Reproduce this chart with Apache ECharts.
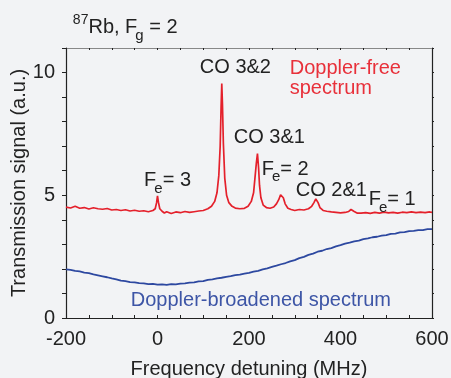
<!DOCTYPE html>
<html><head><meta charset="utf-8">
<script src="https://cdn.jsdelivr.net/npm/echarts@6/dist/echarts.min.js"></script>
<style>html,body{margin:0;padding:0;background:#f2f3f5;}#c{width:451px;height:378px;}</style>
</head><body><div id="c"></div>
<script>
// ---- data ----
const redFreq = [-200,-190,-180,-170,-160,-150,-140,-130,-120,-110,-100,-90,-80,-70,-60,-50,-40,-30,-20,-10,-5,-2,0,2,5,10,15,20,30,40,50,60,70,80,90,100,110,118,125,130,134,137,139,140.5,142,144,147,151,156,163,170,180,190,198,205,210,213,216,218.5,221,223,226,231,238,246,254,260,265,269,272,275,279,285,292,300,310,320,330,337,342,346,348,351,355,362,370,380,390,400,410,418,423,426,430,437,445,455,465,475,485,495,505,515,525,535,545,555,565,575,585,595,600];
const redSignal = [4.52,4.48,4.55,4.47,4.50,4.44,4.49,4.45,4.43,4.46,4.40,4.42,4.38,4.41,4.36,4.39,4.35,4.37,4.33,4.38,4.45,4.70,4.98,4.72,4.45,4.35,4.28,4.33,4.26,4.32,4.29,4.34,4.30,4.33,4.36,4.38,4.45,4.55,4.75,5.10,5.80,7.00,8.60,9.55,8.70,7.10,5.70,5.00,4.70,4.55,4.48,4.45,4.47,4.55,4.75,5.10,5.70,6.30,6.70,6.10,5.40,4.90,4.60,4.50,4.47,4.52,4.65,4.82,5.02,5.07,4.90,4.65,4.47,4.42,4.38,4.42,4.40,4.45,4.55,4.70,4.85,4.88,4.70,4.50,4.38,4.35,4.32,4.30,4.28,4.30,4.34,4.42,4.42,4.34,4.27,4.27,4.29,4.26,4.30,4.27,4.31,4.28,4.30,4.27,4.31,4.29,4.32,4.29,4.31,4.29,4.32,4.30];
const blueFreq = [-200,-190,-180,-170,-160,-150,-140,-130,-120,-110,-100,-90,-80,-70,-60,-50,-40,-30,-20,-10,0,10,20,30,40,50,60,70,80,90,100,110,120,130,140,150,160,170,180,190,200,210,220,230,240,250,260,270,280,290,300,310,320,330,340,350,360,370,380,390,400,410,420,430,440,450,460,470,480,490,500,510,520,530,540,550,560,570,580,590,600];
const blueSignal = [1.98,1.96,1.92,1.90,1.85,1.83,1.78,1.74,1.70,1.66,1.61,1.57,1.52,1.50,1.46,1.45,1.42,1.41,1.38,1.39,1.36,1.37,1.35,1.38,1.37,1.40,1.41,1.44,1.45,1.49,1.50,1.55,1.57,1.61,1.64,1.68,1.71,1.75,1.77,1.81,1.84,1.89,1.92,1.98,2.02,2.08,2.13,2.19,2.24,2.31,2.36,2.44,2.49,2.57,2.62,2.70,2.74,2.81,2.85,2.92,2.97,3.03,3.07,3.12,3.15,3.21,3.24,3.29,3.31,3.36,3.38,3.43,3.44,3.49,3.50,3.54,3.55,3.58,3.58,3.62,3.62];
const xTickLabels = [-200, 0, 200, 400, 600];
const yTickLabels = [0, 5, 10];
const xTitle = 'Frequency detuning (MHz)';
const yTitle = 'Transmission signal (a.u.)';
// annotation texts: pieces (normal / sub / sup)
const annoTexts = [
  [['87','sup'],['Rb, F',''],['g','sub'],[' = 2','']],
  [['CO 3&2','']],
  [['Doppler-free','']],
  [['spectrum','']],
  [['CO 3&1','']],
  [['F',''],['e','sub'],['= 2','']],
  [['CO 2&1','']],
  [['F',''],['e','sub'],['= 1','']],
  [['F',''],['e','sub'],['= 3','']],
  [['Doppler-broadened spectrum','']]
];
// anchors in data coordinates (left edge, cap-centre)
const annoAnchor = [[-185,11.84],[92.5,10.21],[289,10.15],[289,9.36],[166.8,7.35],[228,6.07],[302.3,5.20],[461.8,4.83],[-29.3,5.60],[-58.4,0.72]];
const annoColor = ['#222','#222','#e8303a','#e8303a','#222','#222','#222','#222','#222','#3d55a6'];

// ---- styles ----
const FF = '"Liberation Sans", Arial, Helvetica, sans-serif';
const FS = 20;
const RED = '#e4202b', BLUE = '#2d48a0', AX = '#222';

const chart = echarts.init(document.getElementById('c'), null, {renderer:'canvas'});
const option = {
  backgroundColor: '#f2f3f5',
  animation: false,
  grid: {left:66, right:19, top:48, bottom:60, containLabel:false, outerBoundsMode:'none'},
  xAxis: [
    {type:'value', min:-200, max:600, interval:50, position:'bottom',
     axisLine:{show:true, onZero:false, lineStyle:{color:AX, width:1.2}},
     axisTick:{show:true, inside:true, length:3, lineStyle:{color:AX}},
     axisLabel:{formatter:v=>xTickLabels.includes(v)?String(v):'', color:AX, fontSize:FS, fontFamily:FF, margin:11},
     splitLine:{show:false},
     name:xTitle, nameLocation:'middle', nameGap:41, nameMoveOverlap:false, nameTextStyle:{color:AX, fontSize:FS, fontFamily:FF}},
    {type:'value', min:-200, max:600, interval:50, position:'top',
     axisLine:{show:true, onZero:false, lineStyle:{color:'#888', width:1.2}},
     axisTick:{show:true, inside:true, length:2, lineStyle:{color:AX}},
     axisLabel:{show:false}, splitLine:{show:false}}
  ],
  yAxis: [
    {type:'value', min:0, max:11, interval:1, position:'left',
     axisLine:{show:true, onZero:false, lineStyle:{color:AX, width:1.2}},
     axisTick:{show:true, inside:false, length:4, lineStyle:{color:AX}},
     axisLabel:{formatter:v=>yTickLabels.includes(v)?String(v):'', color:AX, fontSize:FS, fontFamily:FF, margin:11},
     splitLine:{show:false},
     name:yTitle, nameLocation:'middle', nameGap:37, nameMoveOverlap:false, nameTextStyle:{color:AX, fontSize:FS, fontFamily:FF}},
    {type:'value', min:0, max:11, interval:1, position:'right',
     axisLine:{show:true, onZero:false, lineStyle:{color:AX, width:1.2}},
     axisTick:{show:true, inside:false, length:2, lineStyle:{color:AX}},
     axisLabel:{show:false}, splitLine:{show:false}}
  ],
  series: [
    {type:'line', data: blueFreq.map((x,i)=>[x, blueSignal[i]]), symbol:'none', lineStyle:{color:BLUE, width:1.8}, z:2},
    {type:'line', data: redFreq.map((x,i)=>[x, redSignal[i]]), symbol:'none', lineStyle:{color:RED, width:1.7}, z:3}
  ]
};
chart.setOption(option);

// ---- annotations ----
const mctx = document.createElement('canvas').getContext('2d');
function tw(t, size){ mctx.font = size + 'px ' + FF; return mctx.measureText(t).width; }
const graphics = [];
annoTexts.forEach((parts, k) => {
  const p = chart.convertToPixel({xAxisIndex:0, yAxisIndex:0}, annoAnchor[k]);
  let x = p[0];
  const y = p[1];
  parts.forEach(([t, kind]) => {
    let size = FS, dy = 0, kern = 0;
    if (kind === 'sub') { size = 15; dy = 8; kern = -2; }
    if (kind === 'sup') { size = 14; dy = -7; }
    x += kern;
    graphics.push({type:'text', x:x, y:y+dy, z:10, silent:true,
      style:{text:t, fill:annoColor[k], fontSize:size, fontFamily:FF, align:'left', verticalAlign:'middle'}});
    x += tw(t, size);
  });
});
chart.setOption({graphic: graphics});
</script></body></html>
